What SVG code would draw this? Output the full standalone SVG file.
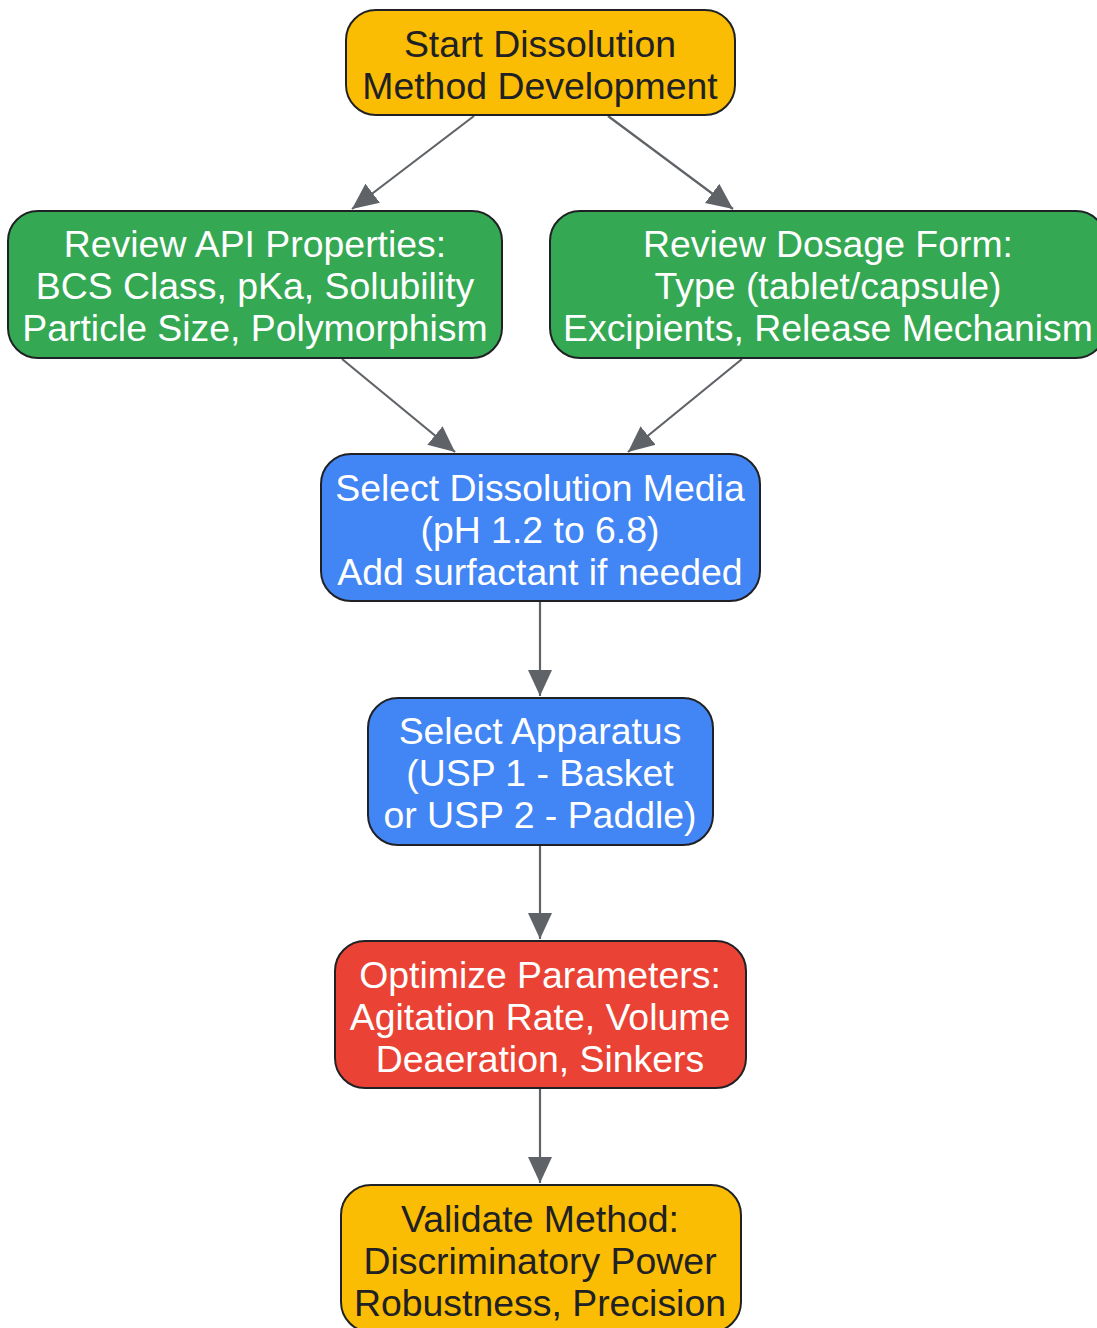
<svg xmlns="http://www.w3.org/2000/svg" width="1097" height="1328" viewBox="0 0 1097 1328">
<style>
.n{stroke:#202124;stroke-width:2}
.t{font-family:"Liberation Sans",Arial,sans-serif;font-size:37.4px;text-anchor:middle}
.d{fill:#202124}.w{fill:#ffffff}
.e{stroke:#5f6368;stroke-width:2.2;fill:none}
</style>
<defs>
<marker id="ah" markerUnits="userSpaceOnUse" markerWidth="30" markerHeight="30" viewBox="0 0 30 30" refX="26" refY="15" orient="auto">
<path d="M0,3 L26,15 L0,27 Z" fill="#5f6368"/>
</marker>
</defs>
<rect width="1097" height="1328" fill="#ffffff"/>
<g id="connectors">
<line class="e" x1="474" y1="116" x2="352" y2="209" marker-end="url(#ah)"/>
<line class="e" x1="608" y1="116" x2="733" y2="209" marker-end="url(#ah)"/>
<line class="e" x1="342" y1="359" x2="455" y2="452" marker-end="url(#ah)"/>
<line class="e" x1="742" y1="359" x2="628" y2="452" marker-end="url(#ah)"/>
<line class="e" x1="540" y1="602" x2="540" y2="696" marker-end="url(#ah)"/>
<line class="e" x1="540" y1="846" x2="540" y2="939" marker-end="url(#ah)"/>
<line class="e" x1="540" y1="1089" x2="540" y2="1183" marker-end="url(#ah)"/>
</g>
<g id="start">
<rect class="n" x="346" y="10" width="389" height="105" rx="30" fill="#fbbc04"/>
<text class="t d" x="540" y="57">Start Dissolution</text>
<text class="t d" x="540" y="99">Method Development</text>
</g>
<g id="api">
<rect class="n" x="8" y="211" width="494" height="147" rx="30" fill="#34a853"/>
<text class="t w" x="255" y="257">Review API Properties:</text>
<text class="t w" x="255" y="299">BCS Class, pKa, Solubility</text>
<text class="t w" x="255" y="341">Particle Size, Polymorphism</text>
</g>
<g id="dosage">
<rect class="n" x="550" y="211" width="556" height="147" rx="30" fill="#34a853"/>
<text class="t w" x="828" y="257">Review Dosage Form:</text>
<text class="t w" x="828" y="299">Type (tablet/capsule)</text>
<text class="t w" x="828" y="341">Excipients, Release Mechanism</text>
</g>
<g id="media">
<rect class="n" x="321" y="454" width="439" height="147" rx="30" fill="#4285f4"/>
<text class="t w" x="540" y="501">Select Dissolution Media</text>
<text class="t w" x="540" y="543">(pH 1.2 to 6.8)</text>
<text class="t w" x="540" y="585">Add surfactant if needed</text>
</g>
<g id="apparatus">
<rect class="n" x="368" y="698" width="345" height="147" rx="30" fill="#4285f4"/>
<text class="t w" x="540" y="744">Select Apparatus</text>
<text class="t w" x="540" y="786">(USP 1 - Basket</text>
<text class="t w" x="540" y="828">or USP 2 - Paddle)</text>
</g>
<g id="optimize">
<rect class="n" x="335" y="941" width="411" height="147" rx="30" fill="#ea4335"/>
<text class="t w" x="540" y="988">Optimize Parameters:</text>
<text class="t w" x="540" y="1030">Agitation Rate, Volume</text>
<text class="t w" x="540" y="1072">Deaeration, Sinkers</text>
</g>
<g id="validate">
<rect class="n" x="341" y="1185" width="400" height="147" rx="30" fill="#fbbc04"/>
<text class="t d" x="540" y="1232">Validate Method:</text>
<text class="t d" x="540" y="1274">Discriminatory Power</text>
<text class="t d" x="540" y="1316">Robustness, Precision</text>
</g>
</svg>
